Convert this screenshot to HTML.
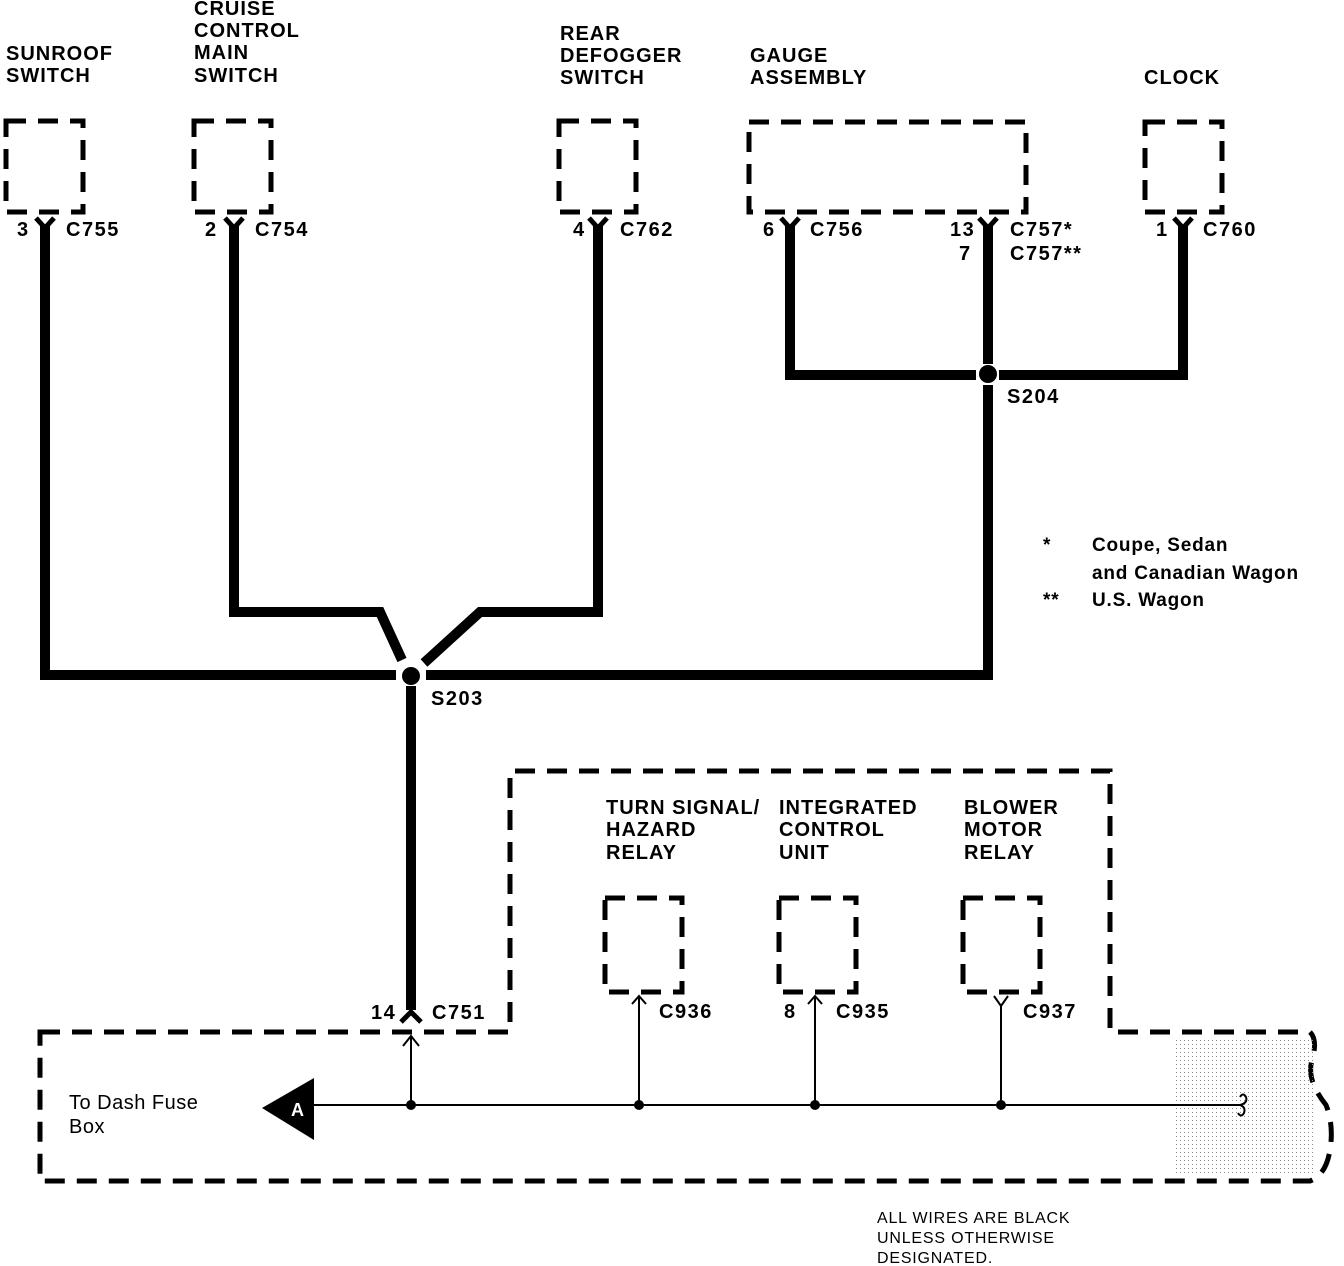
<!DOCTYPE html>
<html><head><style>
html,body{margin:0;padding:0;background:#fff;}
svg{display:block;}
text{font-family:"Liberation Sans",sans-serif;font-weight:bold;fill:#000;}
.l{font-size:20px;letter-spacing:1px;}
.n{font-size:20px;letter-spacing:1.5px;}
.s{font-size:19px;letter-spacing:0.8px;}
.t{font-size:20px;font-weight:normal;letter-spacing:0.5px;}
.b{font-size:16px;font-weight:normal;letter-spacing:0.8px;}
</style></head><body>
<svg width="1344" height="1266" viewBox="0 0 1344 1266" xmlns="http://www.w3.org/2000/svg">
<defs>
<pattern id="dots" width="4" height="4" patternUnits="userSpaceOnUse"><rect x="0" y="0" width="1" height="1" fill="#888"/></pattern>
</defs>
<text x="6" y="60" class="l">SUNROOF</text><text x="6" y="82" class="l">SWITCH</text>
<text x="194" y="15" class="l">CRUISE</text><text x="194" y="37" class="l">CONTROL</text><text x="194" y="59" class="l">MAIN</text><text x="194" y="82" class="l">SWITCH</text>
<text x="560" y="40" class="l">REAR</text><text x="560" y="62" class="l">DEFOGGER</text><text x="560" y="84" class="l">SWITCH</text>
<text x="750" y="62" class="l">GAUGE</text><text x="750" y="84" class="l">ASSEMBLY</text>
<text x="1144" y="84" class="l">CLOCK</text>
<text x="606" y="814" class="l">TURN SIGNAL/</text><text x="606" y="836" class="l">HAZARD</text><text x="606" y="859" class="l">RELAY</text>
<text x="779" y="814" class="l">INTEGRATED</text><text x="779" y="836" class="l">CONTROL</text><text x="779" y="859" class="l">UNIT</text>
<text x="964" y="814" class="l">BLOWER</text><text x="964" y="836" class="l">MOTOR</text><text x="964" y="859" class="l">RELAY</text>
<g fill="none" stroke="#000" stroke-width="5" stroke-dasharray="20,12">
<rect x="6" y="121" width="77" height="91"/>
<rect x="194" y="121" width="77" height="91"/>
<rect x="559" y="121" width="77" height="91"/>
<rect x="749" y="122" width="277" height="90"/>
<rect x="1145" y="122" width="77" height="90"/>
<rect x="605" y="898" width="77" height="94"/>
<rect x="779" y="898" width="77" height="94"/>
<rect x="963" y="898" width="77" height="94"/>
<path d="M40 1032 H510 V771 H1110 V1032 H1310 Q1318 1040 1312 1060 Q1306 1080 1326 1105 Q1334 1125 1330 1150 Q1326 1175 1310 1181 H40 Z"/>
</g>
<rect x="1175" y="1040" width="140" height="135" fill="url(#dots)"/>
<g fill="none" stroke="#000" stroke-width="10">
<path d="M45 225 V675 H396"/>
<path d="M234 225 V612 H380 L402 660"/>
<path d="M598 225 V612 H480 L424 663"/>
<path d="M426 675 H988 V385"/>
<path d="M988 225 V364"/>
<path d="M790 225 V375 H976"/>
<path d="M999 375 H1183 V225"/>
<path d="M411 686 V1010"/>
</g>
<circle cx="411" cy="676" r="9"/>
<circle cx="988" cy="374" r="9"/>
<g fill="none" stroke="#000" stroke-width="5">
<path d="M36 218 L45 228 L54 218"/>
<path d="M225 218 L234 228 L243 218"/>
<path d="M589 218 L598 228 L607 218"/>
<path d="M781 218 L790 228 L799 218"/>
<path d="M979 218 L988 228 L997 218"/>
<path d="M1174 218 L1183 228 L1192 218"/>
<path d="M401 1022 L411 1012 L421 1022"/>
</g>
<g fill="none" stroke="#000" stroke-width="2">
<path d="M310 1105 H1240"/>
<path d="M411 1036 V1105"/>
<path d="M403 1046 L411 1036 L419 1046"/>
<path d="M639 996 V1105"/><path d="M632 1004 L639 996 L646 1004"/>
<path d="M815 996 V1105"/><path d="M808 1004 L815 996 L822 1004"/>
<path d="M1001 1006 V1105"/><path d="M994 996 L1001 1006 L1008 996"/>
<path d="M1240 1105 q8 -2 6 -8 q-3 -5 -6 0 M1240 1105 q6 2 4 8 q-3 5 -6 0"/>
</g>
<g fill="#000"><circle cx="411" cy="1105" r="5"/><circle cx="639" cy="1105" r="5"/><circle cx="815" cy="1105" r="5"/><circle cx="1001" cy="1105" r="5"/></g>
<polygon points="262,1108 314,1078 314,1140" fill="#000"/>
<text x="291" y="1116" style="font-size:18px;fill:#fff">A</text>
<text x="17" y="236" class="n">3</text><text x="66" y="236" class="n">C755</text>
<text x="205" y="236" class="n">2</text><text x="255" y="236" class="n">C754</text>
<text x="573" y="236" class="n">4</text><text x="620" y="236" class="n">C762</text>
<text x="763" y="236" class="n">6</text><text x="810" y="236" class="n">C756</text>
<text x="950" y="236" class="n">13</text><text x="1010" y="236" class="n">C757*</text>
<text x="959" y="260" class="n">7</text><text x="1010" y="260" class="n">C757**</text>
<text x="1156" y="236" class="n">1</text><text x="1203" y="236" class="n">C760</text>
<text x="1007" y="403" class="n">S204</text>
<text x="431" y="705" class="n">S203</text>
<text x="371" y="1019" class="n">14</text><text x="432" y="1019" class="n">C751</text>
<text x="659" y="1018" class="n">C936</text>
<text x="784" y="1018" class="n">8</text><text x="836" y="1018" class="n">C935</text>
<text x="1023" y="1018" class="n">C937</text>
<text x="1043" y="551" class="s">*</text><text x="1092" y="551" class="s">Coupe, Sedan</text>
<text x="1092" y="579" class="s">and Canadian Wagon</text>
<text x="1043" y="606" class="s">**</text><text x="1092" y="606" class="s">U.S. Wagon</text>
<text x="69" y="1109" class="t">To Dash Fuse</text><text x="69" y="1133" class="t">Box</text>
<text x="877" y="1223" class="b">ALL WIRES ARE BLACK</text>
<text x="877" y="1243" class="b">UNLESS OTHERWISE</text>
<text x="877" y="1263" class="b">DESIGNATED.</text>
</svg>
</body></html>
